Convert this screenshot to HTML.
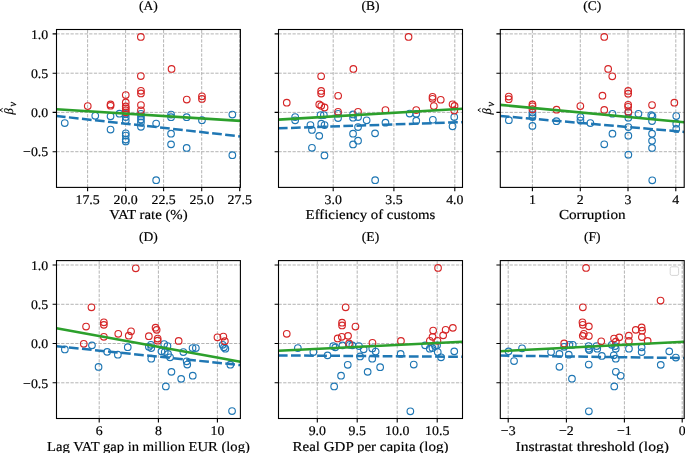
<!DOCTYPE html>
<html><head><meta charset="utf-8"><style>html,body{margin:0;padding:0;background:#fff;width:685px;height:453px;overflow:hidden}svg{display:block;will-change:transform}text{font-family:"Liberation Serif",serif;text-rendering:geometricPrecision;stroke:#000;stroke-width:0.18px}</style></head><body>
<svg width="685" height="453" viewBox="0 0 685 453" font-family="'Liberation Serif', serif" fill="#000">
<rect width="685" height="453" fill="#fff"/>
<clipPath id="clipA"><rect x="56.5" y="29.5" width="183.9" height="157.9"/></clipPath>
<path d="M56.5 33.9H240.4M56.5 73.2H240.4M56.5 112.4H240.4M56.5 151.7H240.4M87.6 187.4V29.5M125.6 187.4V29.5M163.6 187.4V29.5M201.7 187.4V29.5M239.7 187.4V29.5" stroke="#b0b0b0" stroke-width="0.95" stroke-dasharray="3.26 1.41" fill="none"/>
<g fill="none" stroke-width="1.15" clip-path="url(#clipA)"><circle cx="64.75" cy="123.05" r="3.3" stroke="#1f77b4"/><circle cx="95.25" cy="115.85" r="3.3" stroke="#1f77b4"/><circle cx="110.55" cy="116.35" r="3.3" stroke="#1f77b4"/><circle cx="110.55" cy="129.55" r="3.3" stroke="#1f77b4"/><circle cx="119.45" cy="113.65" r="3.3" stroke="#1f77b4"/><circle cx="125.75" cy="113.85" r="3.3" stroke="#1f77b4"/><circle cx="125.75" cy="117.05" r="3.3" stroke="#1f77b4"/><circle cx="125.75" cy="120.45" r="3.3" stroke="#1f77b4"/><circle cx="125.75" cy="133.25" r="3.3" stroke="#1f77b4"/><circle cx="125.75" cy="135.55" r="3.3" stroke="#1f77b4"/><circle cx="125.75" cy="139.55" r="3.3" stroke="#1f77b4"/><circle cx="125.75" cy="141.45" r="3.3" stroke="#1f77b4"/><circle cx="140.95" cy="113.75" r="3.3" stroke="#1f77b4"/><circle cx="140.95" cy="116.45" r="3.3" stroke="#1f77b4"/><circle cx="140.95" cy="119.45" r="3.3" stroke="#1f77b4"/><circle cx="140.95" cy="122.45" r="3.3" stroke="#1f77b4"/><circle cx="140.95" cy="126.85" r="3.3" stroke="#1f77b4"/><circle cx="156.15" cy="123.55" r="3.3" stroke="#1f77b4"/><circle cx="156.15" cy="180.15" r="3.3" stroke="#1f77b4"/><circle cx="171.05" cy="114.55" r="3.3" stroke="#1f77b4"/><circle cx="171.05" cy="117.15" r="3.3" stroke="#1f77b4"/><circle cx="171.05" cy="133.65" r="3.3" stroke="#1f77b4"/><circle cx="171.05" cy="144.35" r="3.3" stroke="#1f77b4"/><circle cx="186.65" cy="117.15" r="3.3" stroke="#1f77b4"/><circle cx="186.65" cy="147.95" r="3.3" stroke="#1f77b4"/><circle cx="201.95" cy="120.15" r="3.3" stroke="#1f77b4"/><circle cx="232.35" cy="114.55" r="3.3" stroke="#1f77b4"/><circle cx="232.35" cy="155.15" r="3.3" stroke="#1f77b4"/><circle cx="140.85" cy="36.95" r="3.3" stroke="#d62728"/><circle cx="171.55" cy="68.95" r="3.3" stroke="#d62728"/><circle cx="140.85" cy="76.05" r="3.3" stroke="#d62728"/><circle cx="140.95" cy="90.85" r="3.3" stroke="#d62728"/><circle cx="140.95" cy="93.45" r="3.3" stroke="#d62728"/><circle cx="125.75" cy="95.05" r="3.3" stroke="#d62728"/><circle cx="201.95" cy="96.25" r="3.3" stroke="#d62728"/><circle cx="201.95" cy="98.95" r="3.3" stroke="#d62728"/><circle cx="186.75" cy="99.55" r="3.3" stroke="#d62728"/><circle cx="125.75" cy="102.45" r="3.3" stroke="#d62728"/><circle cx="110.55" cy="104.45" r="3.3" stroke="#d62728"/><circle cx="110.55" cy="105.75" r="3.3" stroke="#d62728"/><circle cx="140.95" cy="105.05" r="3.3" stroke="#d62728"/><circle cx="87.75" cy="106.05" r="3.3" stroke="#d62728"/><circle cx="125.75" cy="106.45" r="3.3" stroke="#d62728"/><circle cx="125.75" cy="108.35" r="3.3" stroke="#d62728"/><circle cx="125.75" cy="110.35" r="3.3" stroke="#d62728"/><circle cx="140.95" cy="110.35" r="3.3" stroke="#d62728"/><circle cx="125.75" cy="112.35" r="3.3" stroke="#d62728"/></g>
<g clip-path="url(#clipA)">
<line x1="56.5" y1="116" x2="240.4" y2="136.4" stroke="#1f77b4" stroke-width="2.5" stroke-dasharray="9.7 3.4" stroke-dashoffset="0.6"/>
<line x1="56.5" y1="109.3" x2="240.4" y2="120.9" stroke="#2ca02c" stroke-width="2.6"/>
</g>
<rect x="56.5" y="29.5" width="183.9" height="157.9" fill="none" stroke="#000" stroke-width="1.1"/>
<path d="M56.5 33.9h-3.9M56.5 73.2h-3.9M56.5 112.4h-3.9M56.5 151.7h-3.9M87.6 187.4v3.9M125.6 187.4v3.9M163.6 187.4v3.9M201.7 187.4v3.9M239.7 187.4v3.9" stroke="#000" stroke-width="1.1"/>
<text transform="translate(48.2 38.6) scale(1.05 1)" font-size="13.2" text-anchor="end">1.0</text>
<text transform="translate(48.2 77.9) scale(1.05 1)" font-size="13.2" text-anchor="end">0.5</text>
<text transform="translate(48.2 117.1) scale(1.05 1)" font-size="13.2" text-anchor="end">0.0</text>
<text transform="translate(48.2 156.4) scale(1.05 1)" font-size="13.2" text-anchor="end">−0.5</text>
<text transform="translate(87.6 204.2) scale(1.05 1)" font-size="13.2" text-anchor="middle">17.5</text>
<text transform="translate(125.6 204.2) scale(1.05 1)" font-size="13.2" text-anchor="middle">20.0</text>
<text transform="translate(163.6 204.2) scale(1.05 1)" font-size="13.2" text-anchor="middle">22.5</text>
<text transform="translate(201.7 204.2) scale(1.05 1)" font-size="13.2" text-anchor="middle">25.0</text>
<text transform="translate(239.7 204.2) scale(1.05 1)" font-size="13.2" text-anchor="middle">27.5</text>
<text x="148.45" y="219.4" font-size="13.7" text-anchor="middle" textLength="78.4" lengthAdjust="spacingAndGlyphs">VAT rate (%)</text>
<text transform="translate(148.45 10) scale(1.02 1)" font-size="13.3" text-anchor="middle">(A)</text>
<clipPath id="clipB"><rect x="278.5" y="29.5" width="184" height="157.9"/></clipPath>
<path d="M278.5 33.9H462.5M278.5 73.2H462.5M278.5 112.4H462.5M278.5 151.7H462.5M333.2 187.4V29.5M393.9 187.4V29.5M454.8 187.4V29.5" stroke="#b0b0b0" stroke-width="0.95" stroke-dasharray="3.26 1.41" fill="none"/>
<g fill="none" stroke-width="1.15" clip-path="url(#clipB)"><circle cx="295.15" cy="117.05" r="3.3" stroke="#1f77b4"/><circle cx="295.15" cy="120.35" r="3.3" stroke="#1f77b4"/><circle cx="310.45" cy="125.05" r="3.3" stroke="#1f77b4"/><circle cx="311.95" cy="129.95" r="3.3" stroke="#1f77b4"/><circle cx="319.25" cy="135.85" r="3.3" stroke="#1f77b4"/><circle cx="311.95" cy="147.75" r="3.3" stroke="#1f77b4"/><circle cx="320.55" cy="115.05" r="3.3" stroke="#1f77b4"/><circle cx="323.85" cy="115.05" r="3.3" stroke="#1f77b4"/><circle cx="321.25" cy="123.65" r="3.3" stroke="#1f77b4"/><circle cx="324.55" cy="125.05" r="3.3" stroke="#1f77b4"/><circle cx="324.45" cy="155.45" r="3.3" stroke="#1f77b4"/><circle cx="338.05" cy="113.75" r="3.3" stroke="#1f77b4"/><circle cx="338.05" cy="118.05" r="3.3" stroke="#1f77b4"/><circle cx="353.05" cy="114.45" r="3.3" stroke="#1f77b4"/><circle cx="353.05" cy="117.75" r="3.3" stroke="#1f77b4"/><circle cx="358.05" cy="117.05" r="3.3" stroke="#1f77b4"/><circle cx="366.65" cy="120.35" r="3.3" stroke="#1f77b4"/><circle cx="358.05" cy="127.05" r="3.3" stroke="#1f77b4"/><circle cx="353.05" cy="133.65" r="3.3" stroke="#1f77b4"/><circle cx="358.05" cy="140.65" r="3.3" stroke="#1f77b4"/><circle cx="353.05" cy="144.45" r="3.3" stroke="#1f77b4"/><circle cx="375.05" cy="133.35" r="3.3" stroke="#1f77b4"/><circle cx="385.45" cy="122.65" r="3.3" stroke="#1f77b4"/><circle cx="409.65" cy="113.55" r="3.3" stroke="#1f77b4"/><circle cx="416.25" cy="113.75" r="3.3" stroke="#1f77b4"/><circle cx="416.25" cy="120.65" r="3.3" stroke="#1f77b4"/><circle cx="432.85" cy="119.75" r="3.3" stroke="#1f77b4"/><circle cx="454.25" cy="117.05" r="3.3" stroke="#1f77b4"/><circle cx="452.55" cy="126.25" r="3.3" stroke="#1f77b4"/><circle cx="375.15" cy="180.15" r="3.3" stroke="#1f77b4"/><circle cx="408.55" cy="36.95" r="3.3" stroke="#d62728"/><circle cx="353.35" cy="68.95" r="3.3" stroke="#d62728"/><circle cx="321.15" cy="76.25" r="3.3" stroke="#d62728"/><circle cx="321.15" cy="90.95" r="3.3" stroke="#d62728"/><circle cx="321.15" cy="93.55" r="3.3" stroke="#d62728"/><circle cx="338.15" cy="95.75" r="3.3" stroke="#d62728"/><circle cx="432.55" cy="96.85" r="3.3" stroke="#d62728"/><circle cx="432.55" cy="98.75" r="3.3" stroke="#d62728"/><circle cx="440.75" cy="99.75" r="3.3" stroke="#d62728"/><circle cx="286.75" cy="102.65" r="3.3" stroke="#d62728"/><circle cx="319.25" cy="104.45" r="3.3" stroke="#d62728"/><circle cx="321.25" cy="105.85" r="3.3" stroke="#d62728"/><circle cx="324.55" cy="107.45" r="3.3" stroke="#d62728"/><circle cx="433.85" cy="106.05" r="3.3" stroke="#d62728"/><circle cx="452.55" cy="104.25" r="3.3" stroke="#d62728"/><circle cx="454.55" cy="105.95" r="3.3" stroke="#d62728"/><circle cx="385.45" cy="110.05" r="3.3" stroke="#d62728"/><circle cx="416.25" cy="110.05" r="3.3" stroke="#d62728"/><circle cx="338.05" cy="111.75" r="3.3" stroke="#d62728"/><circle cx="358.05" cy="111.75" r="3.3" stroke="#d62728"/><circle cx="454.25" cy="110.45" r="3.3" stroke="#d62728"/></g>
<g clip-path="url(#clipB)">
<line x1="278.5" y1="128.3" x2="462.5" y2="122.1" stroke="#1f77b4" stroke-width="2.5" stroke-dasharray="9.7 3.4" stroke-dashoffset="0.6"/>
<line x1="278.5" y1="119.6" x2="462.5" y2="108.8" stroke="#2ca02c" stroke-width="2.6"/>
</g>
<rect x="278.5" y="29.5" width="184" height="157.9" fill="none" stroke="#000" stroke-width="1.1"/>
<path d="M278.5 33.9h-3.9M278.5 73.2h-3.9M278.5 112.4h-3.9M278.5 151.7h-3.9M333.2 187.4v3.9M393.9 187.4v3.9M454.8 187.4v3.9" stroke="#000" stroke-width="1.1"/>
<text transform="translate(333.2 204.2) scale(1.05 1)" font-size="13.2" text-anchor="middle">3.0</text>
<text transform="translate(393.9 204.2) scale(1.05 1)" font-size="13.2" text-anchor="middle">3.5</text>
<text transform="translate(454.8 204.2) scale(1.05 1)" font-size="13.2" text-anchor="middle">4.0</text>
<text x="370.5" y="219.4" font-size="13.7" text-anchor="middle" textLength="129.8" lengthAdjust="spacingAndGlyphs">Efficiency of customs</text>
<text transform="translate(370.5 10) scale(1.02 1)" font-size="13.3" text-anchor="middle">(B)</text>
<clipPath id="clipC"><rect x="500.3" y="29.5" width="183.9" height="157.9"/></clipPath>
<path d="M500.3 33.9H684.2M500.3 73.2H684.2M500.3 112.4H684.2M500.3 151.7H684.2M532.4 187.4V29.5M580.3 187.4V29.5M628 187.4V29.5M675.8 187.4V29.5" stroke="#b0b0b0" stroke-width="0.95" stroke-dasharray="3.26 1.41" fill="none"/>
<g fill="none" stroke-width="1.15" clip-path="url(#clipC)"><circle cx="508.85" cy="120.15" r="3.3" stroke="#1f77b4"/><circle cx="532.45" cy="112.45" r="3.3" stroke="#1f77b4"/><circle cx="532.45" cy="115.05" r="3.3" stroke="#1f77b4"/><circle cx="532.45" cy="117.05" r="3.3" stroke="#1f77b4"/><circle cx="532.45" cy="125.95" r="3.3" stroke="#1f77b4"/><circle cx="556.45" cy="121.15" r="3.3" stroke="#1f77b4"/><circle cx="580.45" cy="117.05" r="3.3" stroke="#1f77b4"/><circle cx="580.45" cy="120.55" r="3.3" stroke="#1f77b4"/><circle cx="590.35" cy="123.05" r="3.3" stroke="#1f77b4"/><circle cx="612.45" cy="113.75" r="3.3" stroke="#1f77b4"/><circle cx="628.35" cy="112.45" r="3.3" stroke="#1f77b4"/><circle cx="628.35" cy="117.75" r="3.3" stroke="#1f77b4"/><circle cx="638.45" cy="113.75" r="3.3" stroke="#1f77b4"/><circle cx="628.35" cy="127.05" r="3.3" stroke="#1f77b4"/><circle cx="612.45" cy="133.65" r="3.3" stroke="#1f77b4"/><circle cx="628.35" cy="135.65" r="3.3" stroke="#1f77b4"/><circle cx="604.25" cy="144.25" r="3.3" stroke="#1f77b4"/><circle cx="628.35" cy="154.65" r="3.3" stroke="#1f77b4"/><circle cx="651.25" cy="115.05" r="3.3" stroke="#1f77b4"/><circle cx="652.45" cy="116.15" r="3.3" stroke="#1f77b4"/><circle cx="652.05" cy="121.05" r="3.3" stroke="#1f77b4"/><circle cx="652.05" cy="133.65" r="3.3" stroke="#1f77b4"/><circle cx="652.05" cy="140.85" r="3.3" stroke="#1f77b4"/><circle cx="652.05" cy="147.95" r="3.3" stroke="#1f77b4"/><circle cx="676.25" cy="116.05" r="3.3" stroke="#1f77b4"/><circle cx="676.25" cy="123.65" r="3.3" stroke="#1f77b4"/><circle cx="676.25" cy="128.95" r="3.3" stroke="#1f77b4"/><circle cx="652.25" cy="180.25" r="3.3" stroke="#1f77b4"/><circle cx="604.25" cy="36.95" r="3.3" stroke="#d62728"/><circle cx="608.15" cy="68.95" r="3.3" stroke="#d62728"/><circle cx="612.25" cy="76.35" r="3.3" stroke="#d62728"/><circle cx="628.15" cy="90.95" r="3.3" stroke="#d62728"/><circle cx="628.15" cy="93.65" r="3.3" stroke="#d62728"/><circle cx="602.45" cy="95.65" r="3.3" stroke="#d62728"/><circle cx="508.75" cy="96.55" r="3.3" stroke="#d62728"/><circle cx="508.75" cy="99.15" r="3.3" stroke="#d62728"/><circle cx="674.35" cy="102.65" r="3.3" stroke="#d62728"/><circle cx="532.45" cy="104.45" r="3.3" stroke="#d62728"/><circle cx="652.05" cy="105.05" r="3.3" stroke="#d62728"/><circle cx="628.15" cy="104.85" r="3.3" stroke="#d62728"/><circle cx="580.35" cy="106.05" r="3.3" stroke="#d62728"/><circle cx="532.45" cy="106.35" r="3.3" stroke="#d62728"/><circle cx="628.15" cy="106.75" r="3.3" stroke="#d62728"/><circle cx="532.45" cy="109.15" r="3.3" stroke="#d62728"/><circle cx="556.55" cy="109.65" r="3.3" stroke="#d62728"/><circle cx="604.25" cy="109.95" r="3.3" stroke="#d62728"/><circle cx="628.35" cy="111.75" r="3.3" stroke="#d62728"/></g>
<g clip-path="url(#clipC)">
<line x1="500.3" y1="116" x2="684.2" y2="131.9" stroke="#1f77b4" stroke-width="2.5" stroke-dasharray="9.7 3.4" stroke-dashoffset="0.6"/>
<line x1="500.3" y1="104.9" x2="684.2" y2="122.3" stroke="#2ca02c" stroke-width="2.6"/>
</g>
<rect x="500.3" y="29.5" width="183.9" height="157.9" fill="none" stroke="#000" stroke-width="1.1"/>
<path d="M500.3 33.9h-3.9M500.3 73.2h-3.9M500.3 112.4h-3.9M500.3 151.7h-3.9M532.4 187.4v3.9M580.3 187.4v3.9M628 187.4v3.9M675.8 187.4v3.9" stroke="#000" stroke-width="1.1"/>
<text transform="translate(532.4 204.2) scale(1.05 1)" font-size="13.2" text-anchor="middle">1</text>
<text transform="translate(580.3 204.2) scale(1.05 1)" font-size="13.2" text-anchor="middle">2</text>
<text transform="translate(628 204.2) scale(1.05 1)" font-size="13.2" text-anchor="middle">3</text>
<text transform="translate(675.8 204.2) scale(1.05 1)" font-size="13.2" text-anchor="middle">4</text>
<text x="592.25" y="219.4" font-size="13.7" text-anchor="middle" textLength="66.7" lengthAdjust="spacingAndGlyphs">Corruption</text>
<text transform="translate(592.25 10) scale(1.02 1)" font-size="13.3" text-anchor="middle">(C)</text>
<clipPath id="clipD"><rect x="56.5" y="260.6" width="183.9" height="157.9"/></clipPath>
<path d="M56.5 265H240.4M56.5 304.3H240.4M56.5 343.5H240.4M56.5 382.8H240.4M99.2 418.5V260.6M158.4 418.5V260.6M217.4 418.5V260.6" stroke="#b0b0b0" stroke-width="0.95" stroke-dasharray="3.26 1.41" fill="none"/>
<g fill="none" stroke-width="1.15" clip-path="url(#clipD)"><circle cx="64.85" cy="349.45" r="3.3" stroke="#1f77b4"/><circle cx="91.95" cy="345.35" r="3.3" stroke="#1f77b4"/><circle cx="107.15" cy="351.85" r="3.3" stroke="#1f77b4"/><circle cx="98.55" cy="366.95" r="3.3" stroke="#1f77b4"/><circle cx="117.85" cy="354.65" r="3.3" stroke="#1f77b4"/><circle cx="127.75" cy="347.15" r="3.3" stroke="#1f77b4"/><circle cx="148.85" cy="346.75" r="3.3" stroke="#1f77b4"/><circle cx="151.25" cy="348.05" r="3.3" stroke="#1f77b4"/><circle cx="151.25" cy="358.65" r="3.3" stroke="#1f77b4"/><circle cx="150.85" cy="344.75" r="3.3" stroke="#1f77b4"/><circle cx="164.15" cy="344.05" r="3.3" stroke="#1f77b4"/><circle cx="167.45" cy="346.05" r="3.3" stroke="#1f77b4"/><circle cx="161.45" cy="351.35" r="3.3" stroke="#1f77b4"/><circle cx="164.75" cy="352.05" r="3.3" stroke="#1f77b4"/><circle cx="168.05" cy="353.95" r="3.3" stroke="#1f77b4"/><circle cx="170.05" cy="357.25" r="3.3" stroke="#1f77b4"/><circle cx="183.35" cy="352.05" r="3.3" stroke="#1f77b4"/><circle cx="186.65" cy="361.25" r="3.3" stroke="#1f77b4"/><circle cx="187.25" cy="364.55" r="3.3" stroke="#1f77b4"/><circle cx="171.45" cy="371.85" r="3.3" stroke="#1f77b4"/><circle cx="181.15" cy="378.85" r="3.3" stroke="#1f77b4"/><circle cx="192.75" cy="375.65" r="3.3" stroke="#1f77b4"/><circle cx="192.55" cy="348.05" r="3.3" stroke="#1f77b4"/><circle cx="195.85" cy="348.05" r="3.3" stroke="#1f77b4"/><circle cx="222.65" cy="344.75" r="3.3" stroke="#1f77b4"/><circle cx="223.95" cy="347.35" r="3.3" stroke="#1f77b4"/><circle cx="225.35" cy="348.65" r="3.3" stroke="#1f77b4"/><circle cx="230.35" cy="364.65" r="3.3" stroke="#1f77b4"/><circle cx="165.85" cy="386.45" r="3.3" stroke="#1f77b4"/><circle cx="232.05" cy="411.05" r="3.3" stroke="#1f77b4"/><circle cx="135.75" cy="268.25" r="3.3" stroke="#d62728"/><circle cx="91.45" cy="307.25" r="3.3" stroke="#d62728"/><circle cx="86.05" cy="326.55" r="3.3" stroke="#d62728"/><circle cx="103.85" cy="322.25" r="3.3" stroke="#d62728"/><circle cx="103.85" cy="324.85" r="3.3" stroke="#d62728"/><circle cx="103.85" cy="336.75" r="3.3" stroke="#d62728"/><circle cx="118.25" cy="333.75" r="3.3" stroke="#d62728"/><circle cx="128.75" cy="335.65" r="3.3" stroke="#d62728"/><circle cx="131.05" cy="331.25" r="3.3" stroke="#d62728"/><circle cx="148.85" cy="336.15" r="3.3" stroke="#d62728"/><circle cx="155.55" cy="327.65" r="3.3" stroke="#d62728"/><circle cx="156.65" cy="329.85" r="3.3" stroke="#d62728"/><circle cx="157.65" cy="338.55" r="3.3" stroke="#d62728"/><circle cx="157.65" cy="340.65" r="3.3" stroke="#d62728"/><circle cx="178.65" cy="340.95" r="3.3" stroke="#d62728"/><circle cx="83.75" cy="343.75" r="3.3" stroke="#d62728"/><circle cx="217.45" cy="337.25" r="3.3" stroke="#d62728"/><circle cx="223.35" cy="336.55" r="3.3" stroke="#d62728"/><circle cx="224.85" cy="341.15" r="3.3" stroke="#d62728"/></g>
<g clip-path="url(#clipD)">
<line x1="56.5" y1="346.2" x2="240.4" y2="365.1" stroke="#1f77b4" stroke-width="2.5" stroke-dasharray="9.7 3.4" stroke-dashoffset="0.6"/>
<line x1="56.5" y1="328.2" x2="240.4" y2="361.7" stroke="#2ca02c" stroke-width="2.6"/>
</g>
<rect x="56.5" y="260.6" width="183.9" height="157.9" fill="none" stroke="#000" stroke-width="1.1"/>
<path d="M56.5 265h-3.9M56.5 304.3h-3.9M56.5 343.5h-3.9M56.5 382.8h-3.9M99.2 418.5v3.9M158.4 418.5v3.9M217.4 418.5v3.9" stroke="#000" stroke-width="1.1"/>
<text transform="translate(48.2 269.7) scale(1.05 1)" font-size="13.2" text-anchor="end">1.0</text>
<text transform="translate(48.2 309) scale(1.05 1)" font-size="13.2" text-anchor="end">0.5</text>
<text transform="translate(48.2 348.2) scale(1.05 1)" font-size="13.2" text-anchor="end">0.0</text>
<text transform="translate(48.2 387.5) scale(1.05 1)" font-size="13.2" text-anchor="end">−0.5</text>
<text transform="translate(99.2 435.3) scale(1.05 1)" font-size="13.2" text-anchor="middle">6</text>
<text transform="translate(158.4 435.3) scale(1.05 1)" font-size="13.2" text-anchor="middle">8</text>
<text transform="translate(217.4 435.3) scale(1.05 1)" font-size="13.2" text-anchor="middle">10</text>
<text x="148.45" y="450.5" font-size="13.7" text-anchor="middle" textLength="202.8" lengthAdjust="spacingAndGlyphs">Lag VAT gap in million EUR (log)</text>
<text transform="translate(148.45 241.1) scale(1.02 1)" font-size="13.3" text-anchor="middle">(D)</text>
<clipPath id="clipE"><rect x="278.5" y="260.6" width="184" height="157.9"/></clipPath>
<path d="M278.5 265H462.5M278.5 304.3H462.5M278.5 343.5H462.5M278.5 382.8H462.5M317.3 418.5V260.6M357.2 418.5V260.6M397.2 418.5V260.6M437.2 418.5V260.6" stroke="#b0b0b0" stroke-width="0.95" stroke-dasharray="3.26 1.41" fill="none"/>
<g fill="none" stroke-width="1.15" clip-path="url(#clipE)"><circle cx="297.85" cy="348.05" r="3.3" stroke="#1f77b4"/><circle cx="313.35" cy="352.05" r="3.3" stroke="#1f77b4"/><circle cx="327.55" cy="355.35" r="3.3" stroke="#1f77b4"/><circle cx="333.25" cy="346.05" r="3.3" stroke="#1f77b4"/><circle cx="335.25" cy="347.35" r="3.3" stroke="#1f77b4"/><circle cx="342.45" cy="345.35" r="3.3" stroke="#1f77b4"/><circle cx="349.75" cy="344.75" r="3.3" stroke="#1f77b4"/><circle cx="352.35" cy="345.35" r="3.3" stroke="#1f77b4"/><circle cx="358.95" cy="346.05" r="3.3" stroke="#1f77b4"/><circle cx="363.65" cy="349.35" r="3.3" stroke="#1f77b4"/><circle cx="372.25" cy="348.45" r="3.3" stroke="#1f77b4"/><circle cx="360.05" cy="356.45" r="3.3" stroke="#1f77b4"/><circle cx="372.25" cy="358.65" r="3.3" stroke="#1f77b4"/><circle cx="347.75" cy="364.75" r="3.3" stroke="#1f77b4"/><circle cx="367.65" cy="371.85" r="3.3" stroke="#1f77b4"/><circle cx="341.05" cy="375.65" r="3.3" stroke="#1f77b4"/><circle cx="375.65" cy="351.55" r="3.3" stroke="#1f77b4"/><circle cx="380.15" cy="367.15" r="3.3" stroke="#1f77b4"/><circle cx="400.65" cy="353.95" r="3.3" stroke="#1f77b4"/><circle cx="413.75" cy="364.55" r="3.3" stroke="#1f77b4"/><circle cx="425.15" cy="345.35" r="3.3" stroke="#1f77b4"/><circle cx="429.75" cy="348.65" r="3.3" stroke="#1f77b4"/><circle cx="432.45" cy="348.05" r="3.3" stroke="#1f77b4"/><circle cx="435.05" cy="346.05" r="3.3" stroke="#1f77b4"/><circle cx="437.05" cy="345.35" r="3.3" stroke="#1f77b4"/><circle cx="437.75" cy="352.05" r="3.3" stroke="#1f77b4"/><circle cx="441.05" cy="357.25" r="3.3" stroke="#1f77b4"/><circle cx="454.25" cy="351.35" r="3.3" stroke="#1f77b4"/><circle cx="334.15" cy="386.45" r="3.3" stroke="#1f77b4"/><circle cx="410.35" cy="411.25" r="3.3" stroke="#1f77b4"/><circle cx="438.05" cy="267.95" r="3.3" stroke="#d62728"/><circle cx="345.65" cy="307.25" r="3.3" stroke="#d62728"/><circle cx="342.05" cy="322.65" r="3.3" stroke="#d62728"/><circle cx="342.05" cy="325.45" r="3.3" stroke="#d62728"/><circle cx="355.45" cy="326.55" r="3.3" stroke="#d62728"/><circle cx="286.75" cy="333.75" r="3.3" stroke="#d62728"/><circle cx="348.05" cy="335.85" r="3.3" stroke="#d62728"/><circle cx="341.75" cy="336.75" r="3.3" stroke="#d62728"/><circle cx="337.65" cy="338.45" r="3.3" stroke="#d62728"/><circle cx="349.05" cy="343.45" r="3.3" stroke="#d62728"/><circle cx="372.45" cy="342.75" r="3.3" stroke="#d62728"/><circle cx="400.95" cy="340.95" r="3.3" stroke="#d62728"/><circle cx="433.15" cy="330.55" r="3.3" stroke="#d62728"/><circle cx="445.65" cy="329.75" r="3.3" stroke="#d62728"/><circle cx="452.85" cy="327.85" r="3.3" stroke="#d62728"/><circle cx="443.15" cy="335.35" r="3.3" stroke="#d62728"/><circle cx="432.55" cy="336.85" r="3.3" stroke="#d62728"/><circle cx="429.85" cy="340.75" r="3.3" stroke="#d62728"/><circle cx="437.45" cy="340.75" r="3.3" stroke="#d62728"/></g>
<g clip-path="url(#clipE)">
<line x1="278.5" y1="355.4" x2="462.5" y2="356.8" stroke="#1f77b4" stroke-width="2.5" stroke-dasharray="9.7 3.4" stroke-dashoffset="0.6"/>
<line x1="278.5" y1="350.8" x2="462.5" y2="341.7" stroke="#2ca02c" stroke-width="2.6"/>
</g>
<rect x="278.5" y="260.6" width="184" height="157.9" fill="none" stroke="#000" stroke-width="1.1"/>
<path d="M278.5 265h-3.9M278.5 304.3h-3.9M278.5 343.5h-3.9M278.5 382.8h-3.9M317.3 418.5v3.9M357.2 418.5v3.9M397.2 418.5v3.9M437.2 418.5v3.9" stroke="#000" stroke-width="1.1"/>
<text transform="translate(317.3 435.3) scale(1.05 1)" font-size="13.2" text-anchor="middle">9.0</text>
<text transform="translate(357.2 435.3) scale(1.05 1)" font-size="13.2" text-anchor="middle">9.5</text>
<text transform="translate(397.2 435.3) scale(1.05 1)" font-size="13.2" text-anchor="middle">10.0</text>
<text transform="translate(437.2 435.3) scale(1.05 1)" font-size="13.2" text-anchor="middle">10.5</text>
<text x="370.5" y="450.5" font-size="13.7" text-anchor="middle" textLength="155.9" lengthAdjust="spacingAndGlyphs">Real GDP per capita (log)</text>
<text transform="translate(370.5 241.1) scale(1.02 1)" font-size="13.3" text-anchor="middle">(E)</text>
<clipPath id="clipF"><rect x="500.3" y="260.6" width="183.9" height="157.9"/></clipPath>
<path d="M500.3 265H684.2M500.3 304.3H684.2M500.3 343.5H684.2M500.3 382.8H684.2M508.2 418.5V260.6M566.4 418.5V260.6M624.4 418.5V260.6M682.2 418.5V260.6" stroke="#b0b0b0" stroke-width="0.95" stroke-dasharray="3.26 1.41" fill="none"/>
<g fill="none" stroke-width="1.15" clip-path="url(#clipF)"><circle cx="508.55" cy="351.35" r="3.3" stroke="#1f77b4"/><circle cx="522.05" cy="348.25" r="3.3" stroke="#1f77b4"/><circle cx="514.05" cy="361.05" r="3.3" stroke="#1f77b4"/><circle cx="551.05" cy="352.05" r="3.3" stroke="#1f77b4"/><circle cx="559.45" cy="353.95" r="3.3" stroke="#1f77b4"/><circle cx="564.15" cy="346.75" r="3.3" stroke="#1f77b4"/><circle cx="569.45" cy="344.75" r="3.3" stroke="#1f77b4"/><circle cx="572.75" cy="344.75" r="3.3" stroke="#1f77b4"/><circle cx="568.75" cy="354.65" r="3.3" stroke="#1f77b4"/><circle cx="559.45" cy="366.75" r="3.3" stroke="#1f77b4"/><circle cx="571.95" cy="378.65" r="3.3" stroke="#1f77b4"/><circle cx="588.65" cy="346.05" r="3.3" stroke="#1f77b4"/><circle cx="588.65" cy="348.65" r="3.3" stroke="#1f77b4"/><circle cx="589.25" cy="350.05" r="3.3" stroke="#1f77b4"/><circle cx="596.55" cy="346.05" r="3.3" stroke="#1f77b4"/><circle cx="597.25" cy="348.65" r="3.3" stroke="#1f77b4"/><circle cx="588.75" cy="364.55" r="3.3" stroke="#1f77b4"/><circle cx="601.85" cy="355.95" r="3.3" stroke="#1f77b4"/><circle cx="611.75" cy="344.75" r="3.3" stroke="#1f77b4"/><circle cx="615.05" cy="346.05" r="3.3" stroke="#1f77b4"/><circle cx="615.75" cy="348.65" r="3.3" stroke="#1f77b4"/><circle cx="613.75" cy="355.25" r="3.3" stroke="#1f77b4"/><circle cx="615.75" cy="358.65" r="3.3" stroke="#1f77b4"/><circle cx="615.85" cy="371.75" r="3.3" stroke="#1f77b4"/><circle cx="620.65" cy="375.75" r="3.3" stroke="#1f77b4"/><circle cx="614.25" cy="386.45" r="3.3" stroke="#1f77b4"/><circle cx="628.95" cy="348.65" r="3.3" stroke="#1f77b4"/><circle cx="641.65" cy="347.35" r="3.3" stroke="#1f77b4"/><circle cx="641.65" cy="352.05" r="3.3" stroke="#1f77b4"/><circle cx="669.25" cy="351.35" r="3.3" stroke="#1f77b4"/><circle cx="675.85" cy="357.55" r="3.3" stroke="#1f77b4"/><circle cx="660.75" cy="364.85" r="3.3" stroke="#1f77b4"/><circle cx="588.85" cy="411.25" r="3.3" stroke="#1f77b4"/><circle cx="586.05" cy="267.95" r="3.3" stroke="#d62728"/><circle cx="582.85" cy="307.25" r="3.3" stroke="#d62728"/><circle cx="582.45" cy="322.25" r="3.3" stroke="#d62728"/><circle cx="582.75" cy="324.75" r="3.3" stroke="#d62728"/><circle cx="588.85" cy="326.35" r="3.3" stroke="#d62728"/><circle cx="583.85" cy="333.75" r="3.3" stroke="#d62728"/><circle cx="582.75" cy="335.85" r="3.3" stroke="#d62728"/><circle cx="588.85" cy="336.05" r="3.3" stroke="#d62728"/><circle cx="564.15" cy="343.45" r="3.3" stroke="#d62728"/><circle cx="601.25" cy="341.25" r="3.3" stroke="#d62728"/><circle cx="614.05" cy="338.55" r="3.3" stroke="#d62728"/><circle cx="619.25" cy="337.35" r="3.3" stroke="#d62728"/><circle cx="615.85" cy="341.65" r="3.3" stroke="#d62728"/><circle cx="628.85" cy="335.65" r="3.3" stroke="#d62728"/><circle cx="628.85" cy="340.95" r="3.3" stroke="#d62728"/><circle cx="635.75" cy="329.85" r="3.3" stroke="#d62728"/><circle cx="641.65" cy="327.45" r="3.3" stroke="#d62728"/><circle cx="642.05" cy="330.65" r="3.3" stroke="#d62728"/><circle cx="641.85" cy="337.05" r="3.3" stroke="#d62728"/><circle cx="647.65" cy="340.95" r="3.3" stroke="#d62728"/><circle cx="660.55" cy="300.55" r="3.3" stroke="#d62728"/></g>
<g clip-path="url(#clipF)">
<line x1="500.3" y1="355.6" x2="684.2" y2="358" stroke="#1f77b4" stroke-width="2.5" stroke-dasharray="9.7 3.4" stroke-dashoffset="0.6"/>
<line x1="500.3" y1="351.2" x2="684.2" y2="341.8" stroke="#2ca02c" stroke-width="2.6"/>
</g>
<rect x="500.3" y="260.6" width="183.9" height="157.9" fill="none" stroke="#000" stroke-width="1.1"/>
<path d="M500.3 265h-3.9M500.3 304.3h-3.9M500.3 343.5h-3.9M500.3 382.8h-3.9M508.2 418.5v3.9M566.4 418.5v3.9M624.4 418.5v3.9M682.2 418.5v3.9" stroke="#000" stroke-width="1.1"/>
<text transform="translate(508.2 435.3) scale(1.05 1)" font-size="13.2" text-anchor="middle">−3</text>
<text transform="translate(566.4 435.3) scale(1.05 1)" font-size="13.2" text-anchor="middle">−2</text>
<text transform="translate(624.4 435.3) scale(1.05 1)" font-size="13.2" text-anchor="middle">−1</text>
<text transform="translate(682.2 435.3) scale(1.05 1)" font-size="13.2" text-anchor="middle">0</text>
<text x="592.25" y="450.5" font-size="13.7" text-anchor="middle" textLength="153.4" lengthAdjust="spacingAndGlyphs">Instrastat threshold (log)</text>
<text transform="translate(592.25 241.1) scale(1.02 1)" font-size="13.3" text-anchor="middle">(F)</text>
<g transform="translate(-477.9 0)"><g transform="translate(490.6 111.3) rotate(-90)"><text x="0" y="0" font-size="12.6" font-style="italic" text-anchor="middle" stroke="#000" stroke-width="0.35">β</text><text x="4.5" y="3.3" font-size="11" font-style="italic" stroke="#000" stroke-width="0.25">v</text></g><path d="M480.6 108.3L477.9 110.1L480.6 111.9" fill="none" stroke="#000" stroke-width="0.9"/></g>
<g transform="translate(0 0)"><g transform="translate(490.6 111.3) rotate(-90)"><text x="0" y="0" font-size="12.6" font-style="italic" text-anchor="middle" stroke="#000" stroke-width="0.35">β</text><text x="4.5" y="3.3" font-size="11" font-style="italic" stroke="#000" stroke-width="0.25">v</text></g><path d="M480.6 108.3L477.9 110.1L480.6 111.9" fill="none" stroke="#000" stroke-width="0.9"/></g>
<rect x="670.2" y="266.8" width="8.4" height="8.6" rx="1.6" fill="#fff" stroke="#d6d6d6" stroke-width="1"/>
</svg>
</body></html>
